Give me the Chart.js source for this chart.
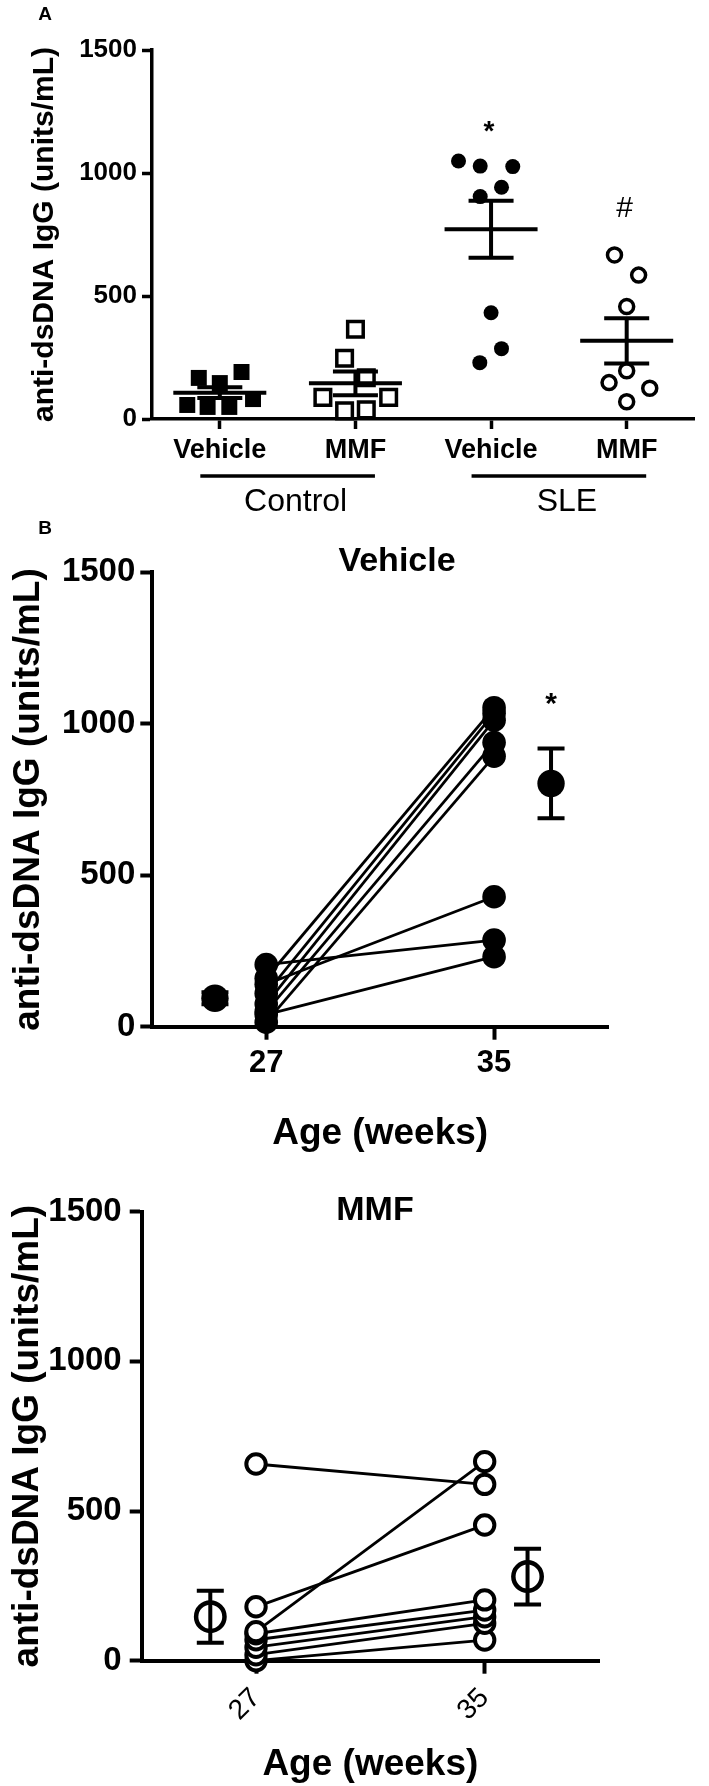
<!DOCTYPE html>
<html><head><meta charset="utf-8">
<script src="https://cdn.jsdelivr.net/npm/chart.js@4.4.1/dist/chart.umd.min.js"></script>
<style>
body{margin:0;background:#fff}
#wrap{position:relative;width:709px;height:1786px;background:#fff;overflow:hidden}
canvas{position:absolute;left:0}
</style></head><body>
<div id="wrap">
<canvas id="cA" width="709" height="520" style="top:0px"></canvas>
<canvas id="cB" width="709" height="650" style="top:520px"></canvas>
<canvas id="cC" width="709" height="616" style="top:1170px"></canvas>
</div>
<script>
// ---------------- Panel A data ----------------
const catLabels = ['Vehicle', 'MMF', 'Vehicle', 'MMF'];
const groupLabels = ['Control', 'SLE'];
const yTicks = [0, 500, 1000, 1500];
const ctrlVehicle = [167, 57, 146, 49, 49, 191, 81];
const ctrlVehicleJitter = [-0.155, -0.24, 0, -0.09, 0.07, 0.16, 0.245];
const ctrlMMF = [365, 247, 168, 88, 88, 33, 37];
const ctrlMMFJitter = [0, -0.08, 0.08, -0.24, 0.245, -0.08, 0.08];
const sleVehicle = [1049, 1028, 1026, 942, 904, 432, 286, 229];
const sleVehicleJitter = [-0.24, -0.08, 0.16, 0.077, -0.08, 0, 0.077, -0.083];
const sleMMF = [667, 585, 457, 196, 148, 125, 70];
const sleMMFJitter = [-0.09, 0.088, 0, 0, -0.13, 0.17, 0];
const groupMeans = [107, 145, 771, 318];
const groupSEM = [22, 48, 116, 92];
const sigMarks = ['', '', '*', '#'];
const sigLevels = [0, 0, 1187, 862];

// ---------------- Panel B data (Vehicle) ----------------
const weekTicks = [27, 35];
const vehWeek27 = [160, 110, 75, 50, 15, 140, 205, 40];
const vehWeek35 = [1053, 1035, 1012, 938, 893, 429, 286, 231];
const vehMeanWeek = [25.2, 37];
const vehMean = [94, 803];
const vehSEM = [20, 115];
const vehSigWeek = 37;
const vehSigLevel = 1082;

// ---------------- Panel C data (MMF) ----------------
const mmfWeek27 = [657, 97, 180, 90, 70, 45, 20, 0];
const mmfWeek35 = [589, 665, 453, 203, 169, 147, 125, 69];
const mmfMeanWeek = [25.4, 36.5];
const mmfMean = [147, 281];
const mmfSEM = [87, 93];

const FAM = "'Liberation Sans', Arial, Helvetica, sans-serif";
Chart.defaults.color = '#000';
Chart.defaults.font.family = FAM;

function drawCenteredGlyph(ctx, text, x, cy, font) {
  ctx.font = font;
  ctx.textAlign = 'center';
  ctx.textBaseline = 'alphabetic';
  const m = ctx.measureText(text);
  const y = cy + (m.actualBoundingBoxAscent - m.actualBoundingBoxDescent) / 2;
  ctx.fillText(text, x, y);
}

const plainNum = v => String(v);

const baseOpts = {
  responsive: false, animation: false, devicePixelRatio: 1, events: [],
  plugins: { legend: { display: false }, tooltip: { enabled: false } }
};

// ---------------- Panel A ----------------
const panelAPlugin = {
  id: 'panelA',
  afterDatasetsDraw(chart) {
    const { ctx, scales: { x, y } } = chart;
    ctx.save();
    ctx.strokeStyle = '#000';
    ctx.lineWidth = 4;
    groupMeans.forEach((m, i) => {
      const px = x.getPixelForValue(i);
      const pm = y.getPixelForValue(m);
      const pu = y.getPixelForValue(m + groupSEM[i]);
      const pl = y.getPixelForValue(m - groupSEM[i]);
      ctx.beginPath();
      ctx.moveTo(px - 46.5, pm); ctx.lineTo(px + 46.5, pm);
      ctx.moveTo(px, pu); ctx.lineTo(px, pl);
      ctx.moveTo(px - 22.5, pu); ctx.lineTo(px + 22.5, pu);
      ctx.moveTo(px - 22.5, pl); ctx.lineTo(px + 22.5, pl);
      ctx.stroke();
    });
    ctx.fillStyle = '#000';
    sigMarks.forEach((s, i) => {
      if (!s) return;
      drawCenteredGlyph(ctx, s, x.getPixelForValue(i) - 2, y.getPixelForValue(sigLevels[i]),
        s === '*' ? "bold 28px " + FAM : "30px " + FAM);
    });
    ctx.restore();
  },
  afterDraw(chart) {
    const { ctx, scales: { x } } = chart;
    ctx.save();
    ctx.fillStyle = '#000';
    ctx.strokeStyle = '#000';
    ctx.lineWidth = 3.3;
    groupLabels.forEach((g, gi) => {
      const x1 = x.getPixelForValue(gi * 2) - 19.5;
      const x2 = x.getPixelForValue(gi * 2 + 1) + 19.5;
      ctx.beginPath(); ctx.moveTo(x1, 476); ctx.lineTo(x2, 476); ctx.stroke();
      ctx.font = "32px " + FAM;
      ctx.textAlign = 'center'; ctx.textBaseline = 'middle';
      ctx.fillText(g, (x1 + x2) / 2 + 8, 502);
    });
    ctx.font = "bold 19px " + FAM;
    ctx.textAlign = 'center'; ctx.textBaseline = 'middle';
    ctx.fillText('A', 45, 15);
    ctx.restore();
  }
};

function jittered(vals, jit, cat) { return vals.map((v, i) => ({ x: cat + jit[i], y: v })); }

new Chart(document.getElementById('cA'), {
  type: 'scatter',
  data: {
    datasets: [
      { data: jittered(ctrlVehicle, ctrlVehicleJitter, 0), pointStyle: 'rect', pointRadius: 11.3,
        pointBackgroundColor: '#000', pointBorderColor: '#000', pointBorderWidth: 0, clip: false },
      { data: jittered(ctrlMMF, ctrlMMFJitter, 1), pointStyle: 'rect', pointRadius: 11,
        pointBackgroundColor: '#fff', pointBorderColor: '#000', pointBorderWidth: 3.5, clip: false },
      { data: jittered(sleVehicle, sleVehicleJitter, 2), pointStyle: 'circle', pointRadius: 7.5,
        pointBackgroundColor: '#000', pointBorderColor: '#000', pointBorderWidth: 0, clip: false },
      { data: jittered(sleMMF, sleMMFJitter, 3), pointStyle: 'circle', pointRadius: 7,
        pointBackgroundColor: '#fff', pointBorderColor: '#000', pointBorderWidth: 3.5, clip: false }
    ]
  },
  options: Object.assign({}, baseOpts, {
    layout: { padding: { top: 50, right: 2, left: 0, bottom: 0 } },
    scales: {
      x: {
        type: 'linear', min: -0.5, max: 3.5,
        afterFit: s => { s.height = 101; },
        afterBuildTicks: s => { s.ticks = catLabels.map((_, i) => ({ value: i })); },
        ticks: { callback: v => catLabels[v], font: { size: 27, weight: 'bold', lineHeight: 1.2 },
          padding: 5, minRotation: 0, maxRotation: 0, autoSkip: false, color: '#000' },
        grid: { drawOnChartArea: false, drawTicks: true, tickLength: 10, tickWidth: 3.5, tickColor: '#000' },
        border: { display: true, color: '#000', width: 3.5 }
      },
      y: {
        type: 'linear', min: 0, max: 1500,
        afterFit: s => { s.width = 152; },
        afterBuildTicks: s => { s.ticks = yTicks.map(v => ({ value: v })); },
        ticks: { callback: plainNum, font: { size: 26, weight: 'bold', lineHeight: 1.2 }, padding: 5, color: '#000' },
        grid: { drawOnChartArea: false, drawTicks: true, tickLength: 10, tickWidth: 3.5, tickColor: '#000' },
        border: { display: true, color: '#000', width: 3.5 },
        title: { display: true, text: 'anti-dsDNA IgG (units/mL)', color: '#000',
          font: { size: 30, weight: 'bold', lineHeight: 1 }, padding: { top: 29.5, bottom: 0 } }
      }
    }
  }),
  plugins: [panelAPlugin]
});

// ---------------- Panels B and C ----------------
function errorBarPlugin(id, meanWeek, means, sems, title, titleX, titleY, letter, sig) {
  return {
    id,
    afterDatasetsDraw(chart) {
      const { ctx, scales: { x, y } } = chart;
      ctx.save();
      ctx.strokeStyle = '#000';
      ctx.lineWidth = 4;
      means.forEach((m, i) => {
        const px = x.getPixelForValue(meanWeek[i]);
        const pu = y.getPixelForValue(m + sems[i]);
        const pl = y.getPixelForValue(m - sems[i]);
        ctx.beginPath();
        ctx.moveTo(px, pu); ctx.lineTo(px, pl);
        ctx.moveTo(px - 13.5, pu); ctx.lineTo(px + 13.5, pu);
        ctx.moveTo(px - 13.5, pl); ctx.lineTo(px + 13.5, pl);
        ctx.stroke();
      });
      ctx.fillStyle = '#000';
      if (sig) drawCenteredGlyph(ctx, '*', x.getPixelForValue(sig.week), y.getPixelForValue(sig.level), "bold 30px " + FAM);
      ctx.restore();
    },
    afterDraw(chart) {
      const { ctx } = chart;
      ctx.save();
      ctx.fillStyle = '#000';
      ctx.textAlign = 'center'; ctx.textBaseline = 'middle';
      ctx.font = "bold 34px " + FAM;
      ctx.fillText(title, titleX, titleY);
      if (letter) { ctx.font = "bold 19px " + FAM; ctx.fillText(letter, 45, 9); }
      ctx.restore();
    }
  };
}

function pairedChart(canvasId, w27, w35, meanWeek, means, filled, pad, xAxisH, yAxisW, tickOpts, yTitlePad, xTitlePad, plugin) {
  const ds = w27.map((v, i) => ({
    data: [{ x: weekTicks[0], y: v }, { x: weekTicks[1], y: w35[i] }],
    showLine: true, borderColor: '#000', borderWidth: 2.8, clip: false,
    pointStyle: 'circle', pointRadius: filled ? 11.8 : 9.7,
    pointBackgroundColor: filled ? '#000' : '#fff', pointBorderColor: '#000', pointBorderWidth: filled ? 0 : 4
  }));
  ds.push({
    data: meanWeek.map((w, i) => ({ x: w, y: means[i] })), showLine: false, clip: false,
    pointStyle: 'circle', pointRadius: filled ? 13.7 : 14.2,
    pointBackgroundColor: filled ? '#000' : '#fff', pointBorderColor: '#000', pointBorderWidth: filled ? 0 : 4.5
  });
  return new Chart(document.getElementById(canvasId), {
    type: 'scatter',
    data: { datasets: ds },
    options: Object.assign({}, baseOpts, {
      layout: { padding: pad },
      scales: {
        x: {
          type: 'linear', min: 23, max: 39,
          afterFit: s => { s.height = xAxisH; },
          afterBuildTicks: s => { s.ticks = weekTicks.map(v => ({ value: v })); },
          ticks: Object.assign({ callback: plainNum }, tickOpts),
          grid: { drawOnChartArea: false, drawTicks: true, tickLength: 13, tickWidth: 4, tickColor: '#000' },
          border: { display: true, color: '#000', width: 4 },
          title: { display: true, text: 'Age (weeks)', color: '#000',
            font: { size: 37, weight: 'bold', lineHeight: 1 }, padding: { top: 0, bottom: xTitlePad } }
        },
        y: {
          type: 'linear', min: 0, max: 1500,
          afterFit: s => { s.width = yAxisW; },
          afterBuildTicks: s => { s.ticks = yTicks.map(v => ({ value: v })); },
          ticks: { callback: plainNum, font: { size: 33, weight: 'bold', lineHeight: 1.2 }, padding: canvasId === 'cB' ? 5 : 8, color: '#000' },
          grid: { drawOnChartArea: false, drawTicks: true, tickLength: 12, tickWidth: 4, tickColor: '#000' },
          border: { display: true, color: '#000', width: 4 },
          title: { display: true, text: 'anti-dsDNA IgG (units/mL)', color: '#000',
            font: { size: 37, weight: 'bold', lineHeight: 1 }, padding: { top: yTitlePad, bottom: 0 } }
        }
      }
    }),
    plugins: [plugin]
  });
}

pairedChart('cB', vehWeek27, vehWeek35, vehMeanWeek, vehMean, true,
  { top: 52.3, right: 101, left: 0, bottom: 0 }, 143.3, 152.3,
  { font: { size: 31, weight: 'bold', lineHeight: 1.2 }, padding: 5.5, minRotation: 0, maxRotation: 0, autoSkip: false, color: '#000' },
  10, 17.5,
  errorBarPlugin('pB', vehMeanWeek, vehMean, vehSEM, 'Vehicle', 397, 41.7, 'B', { week: vehSigWeek, level: vehSigLevel }));

pairedChart('cC', mmfWeek27, mmfWeek35, mmfMeanWeek, mmfMean, false,
  { top: 41.6, right: 110, left: 0, bottom: 0 }, 125.3, 141.7,
  { font: { size: 28, weight: 'normal', lineHeight: 1.2 }, padding: 8, minRotation: 45, maxRotation: 45, autoSkip: false, color: '#000' },
  9, 2.5,
  errorBarPlugin('pC', mmfMeanWeek, mmfMean, mmfSEM, 'MMF', 375, 41, '', null));
</script>
</body></html>
